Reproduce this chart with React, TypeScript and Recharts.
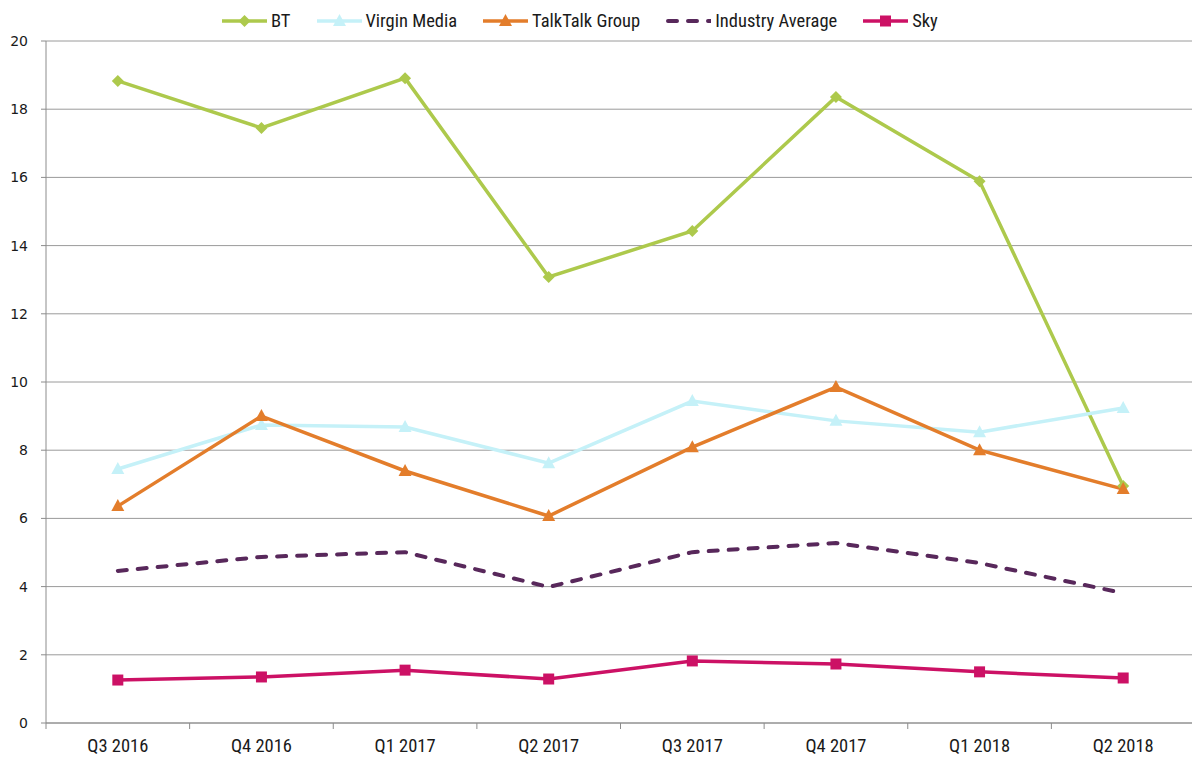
import React from "react";
import { LineChart, Line, XAxis, YAxis, CartesianGrid } from "recharts";

// quarters on the x axis
const quarters = [
  "Q3 2016",
  "Q4 2016",
  "Q1 2017",
  "Q2 2017",
  "Q3 2017",
  "Q4 2017",
  "Q1 2018",
  "Q2 2018",
];

const bt = [18.83, 17.45, 18.91, 13.08, 14.43, 18.36, 15.89, 6.95];
const virginMedia = [7.45, 8.74, 8.68, 7.62, 9.44, 8.86, 8.53, 9.24];
const talkTalk = [6.36, 9.0, 7.39, 6.07, 8.09, 9.85, 8.0, 6.86];
const industryAverage = [4.46, 4.87, 5.01, 3.99, 5.01, 5.28, 4.69, 3.81];
const sky = [1.26, 1.35, 1.55, 1.29, 1.82, 1.73, 1.5, 1.32];

const yTicks = [0, 2, 4, 6, 8, 10, 12, 14, 16, 18, 20];

const data = quarters.map((q, i) => ({
  name: q,
  bt: bt[i],
  virgin: virginMedia[i],
  talktalk: talkTalk[i],
  industry: industryAverage[i],
  sky: sky[i],
}));

const W = 1196;
const H = 761;
const LEFT = 46;
const RIGHT = 1;
const step = (W - LEFT - RIGHT) / quarters.length;

const NARROW = "'Liberation Sans Narrow', 'Arial Narrow', 'Roboto Condensed', sans-serif";

const series = [
  { key: "bt", name: "BT", color: "#adc94c", shape: "diamond", dash: undefined },
  { key: "virgin", name: "Virgin Media", color: "#c5f1f8", shape: "triangle", dash: undefined },
  { key: "talktalk", name: "TalkTalk Group", color: "#e37d2b", shape: "triangle", dash: undefined },
  { key: "industry", name: "Industry Average", color: "#58285b", shape: "none", dash: "9 11" },
  { key: "sky", name: "Sky", color: "#cc1165", shape: "square", dash: undefined },
];

const markerPath = (shape: string, cx: number, cy: number) => {
  if (shape === "diamond") {
    return `M${cx},${cy - 6} L${cx + 6},${cy} L${cx},${cy + 6} L${cx - 6},${cy} Z`;
  }
  if (shape === "triangle") {
    return `M${cx},${cy - 7} L${cx + 6.5},${cy + 5} L${cx - 6.5},${cy + 5} Z`;
  }
  if (shape === "square") {
    return `M${cx - 5.5},${cy - 5.5} h11 v11 h-11 Z`;
  }
  return "";
};

const makeDot = (shape: string, color: string) => (props: any) => {
  const { cx, cy, index } = props;
  if (shape === "none" || cx == null || cy == null) return <g key={index} />;
  return <path key={index} d={markerPath(shape, cx, cy)} fill={color} />;
};

const AXIS_Y = H - 38;

const XTick = (props: any) => {
  const { x, payload, index } = props;
  const left = x - step / 2;
  return (
    <g>
      <line x1={left} y1={AXIS_Y} x2={left} y2={AXIS_Y + 6} stroke="#8c8c8c" />
      {index === quarters.length - 1 && (
        <line x1={x + step / 2} y1={AXIS_Y} x2={x + step / 2} y2={AXIS_Y + 6} stroke="#8c8c8c" />
      )}
      <text x={x} y={AXIS_Y + 29} textAnchor="middle" fontSize={18.5} fontFamily={NARROW} fill="#1a1a1a">
        {payload.value}
      </text>
    </g>
  );
};

const LegendBox = () => (
  <div
    style={{
      position: "absolute",
      left: 222,
      top: 11,
      display: "flex",
      gap: 26,
      fontFamily: NARROW,
      fontSize: 18.5,
      lineHeight: "20px",
      color: "#1a1a1a",
    }}
  >
    {series.map((s) => (
      <div key={s.key} style={{ display: "flex", alignItems: "center" }}>
        <svg width={45} height={16} style={{ marginRight: 4 }}>
          <line
            x1={s.dash ? 2 : 0}
            y1={8}
            x2={45}
            y2={8}
            stroke={s.color}
            strokeWidth={s.dash ? 4 : 3.5}
            strokeDasharray={s.dash}
            strokeLinecap={s.dash ? "round" : "butt"}
          />
          {s.shape !== "none" && <path d={markerPath(s.shape, 22.5, 8)} fill={s.color} />}
        </svg>
        <span>{s.name}</span>
      </div>
    ))}
  </div>
);

export default function App() {
  return (
    <div
      style={{
        position: "absolute",
        left: 0,
        top: 0,
        width: 1192,
        height: H,
        overflow: "hidden",
        background: "#fff",
      }}
    >
      <LineChart
        width={W}
        height={H}
        data={data}
        margin={{ top: 41, right: RIGHT, left: 0, bottom: 0 }}
      >
        <CartesianGrid vertical={false} stroke="#9a9a9a" />
        <XAxis
          dataKey="name"
          stroke="#8c8c8c"
          tickLine={false}
          tick={<XTick />}
          interval={0}
          height={38}
          padding={{ left: step / 2, right: step / 2 }}
        />
        <YAxis
          domain={[0, 20]}
          ticks={yTicks}
          width={LEFT}
          stroke="#8c8c8c"
          tickSize={5}
          tickMargin={13}
          tick={{ fontSize: 14, fontFamily: "'DejaVu Sans', sans-serif", fill: "#1a1a1a" }}
        />
        {series.map((s) => (
          <Line
            key={s.key}
            dataKey={s.key}
            name={s.name}
            stroke={s.color}
            strokeWidth={s.dash ? 4 : 3.5}
            strokeDasharray={s.dash}
            strokeLinecap={s.dash ? "round" : "butt"}
            dot={makeDot(s.shape, s.color)}
            activeDot={false}
            isAnimationActive={false}
          />
        ))}
      </LineChart>
      <LegendBox />
    </div>
  );
}
